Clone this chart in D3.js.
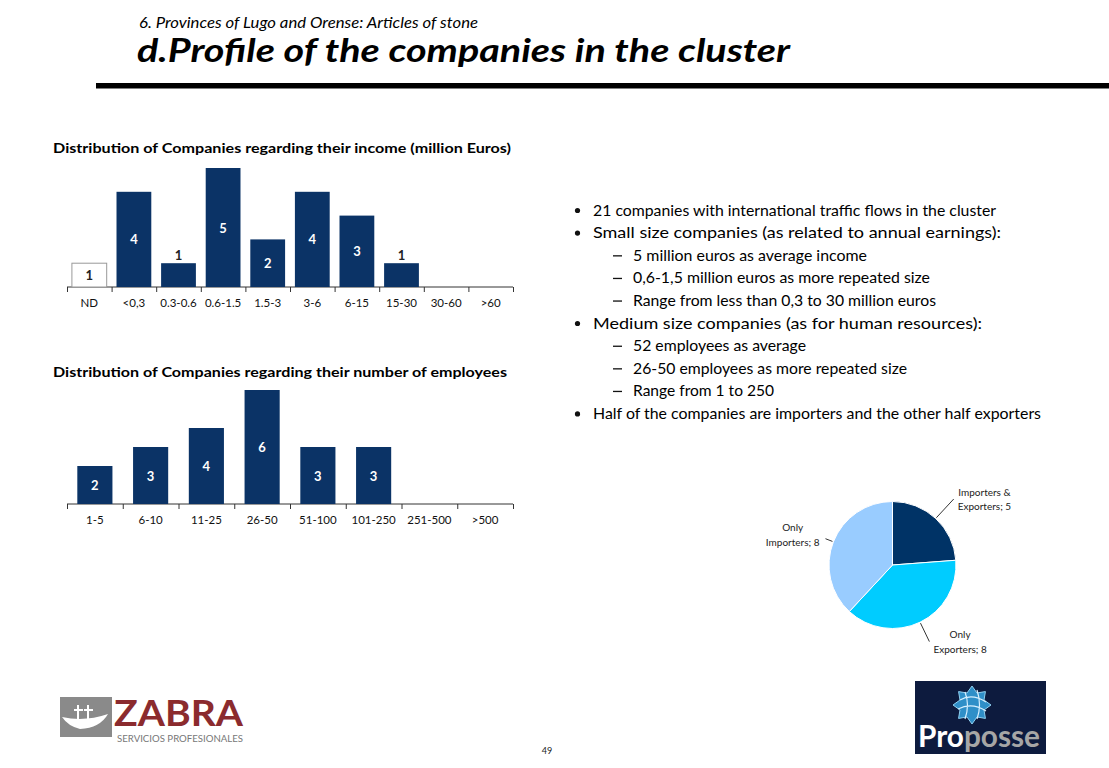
<!DOCTYPE html>
<html>
<head>
<meta charset="utf-8">
<script src="https://cdn.jsdelivr.net/npm/d3@7"></script>
<style>
	body { margin: 0; background: #fff; }
	svg { display: block; font-family: Lato, "Open Sans", sans-serif; }
</style>
</head>
<body>
<svg id="slide" width="1109" height="768" viewBox="0 0 1109 768"></svg>
<script>

// income chart
const incomeCats = ["ND", "<0,3", "0.3-0.6", "0.6-1.5", "1.5-3", "3-6", "6-15", "15-30", "30-60", ">60"];
const incomeVals = [1, 4, 1, 5, 2, 4, 3, 1, 0, 0];

// employees chart
const employeeCats = ["1-5", "6-10", "11-25", "26-50", "51-100", "101-250", "251-500", ">500"];
const employeeVals = [2, 3, 4, 6, 3, 3, 0, 0];

// pie
const tradeCats = ["Importers &\nExporters", "Only\nExporters", "Only\nImporters"];
const tradeVals = [5, 8, 8];
const tradeColors = ["#003366", "#00ccff", "#99ccff"];

const bullets = [
	[0, "21 companies with international traffic flows in the cluster"],
	[0, "Small size companies (as related to annual earnings):"],
	[1, "5 million euros as average income"],
	[1, "0,6-1,5 million euros as more repeated size"],
	[1, "Range from less than 0,3 to 30 million euros"],
	[0, "Medium size companies (as for human resources):"],
	[1, "52 employees as average"],
	[1, "26-50 employees as more repeated size"],
	[1, "Range from 1 to 250"],
	[0, "Half of the companies are importers and the other half exporters"]
];

const svg = d3.select("#slide");
const navy = "#0b3366";

// header
svg.append("text").attr("x", 139).attr("y", 27.5)
	.attr("font-size", 15).attr("font-style", "italic").attr("fill", "#000")
	.attr("textLength", 339).attr("lengthAdjust", "spacingAndGlyphs")
	.text("6. Provinces of Lugo and Orense: Articles of stone");
svg.append("text").attr("x", 137).attr("y", 62)
	.attr("font-size", 32).attr("font-style", "italic").attr("font-weight", "bold").attr("fill", "#000")
	.attr("textLength", 653).attr("lengthAdjust", "spacingAndGlyphs")
	.text("d.Profile of the companies in the cluster");
svg.append("rect").attr("x", 96).attr("y", 83).attr("width", 1013).attr("height", 5.5).attr("fill", "#000");


function barChart(cats, vals, opt) {
	const g = svg.append("g");

	g.append("text").attr("x", opt.left - 14).attr("y", opt.titleY)
		.attr("font-size", 14).attr("font-weight", "bold").attr("fill", "#000")
		.attr("textLength", opt.titleLen).attr("lengthAdjust", "spacingAndGlyphs")
		.text(opt.title);

	const x = d3.scaleBand().domain(cats).range([opt.left, opt.right])
		.paddingInner(opt.pad).paddingOuter(opt.pad / 2);
	const y = d3.scaleLinear().domain([0, opt.max]).range([opt.base, opt.top]);

	// boundary ticks
	const xt = d3.scaleLinear().domain([0, cats.length]).range([opt.left, opt.right]);
	g.append("g").attr("transform", `translate(0,${opt.base})`)
		.call(d3.axisBottom(xt).tickValues(d3.range(cats.length + 1)).tickSize(5).tickFormat(""))
		.call(a => a.select(".domain").attr("stroke", "#333").attr("d", `M${opt.left},0H${opt.right}`))
		.call(a => a.selectAll("line").attr("stroke", "#333"));

	// category labels
	g.append("g").attr("transform", `translate(0,${opt.base})`)
		.call(d3.axisBottom(x).tickSize(0).tickPadding(12))
		.call(a => a.select(".domain").remove())
		.call(a => a.selectAll("text").attr("font-size", 11.5).attr("fill", "#111")
			.attr("font-family", "Lato, sans-serif"));

	const data = cats.map((c, i) => ({ c: c, v: vals[i] })).filter(d => d.v > 0);

	g.selectAll("rect.bar").data(data).enter().append("rect")
		.attr("class", "bar")
		.attr("x", d => x(d.c))
		.attr("y", d => y(d.v))
		.attr("width", x.bandwidth())
		.attr("height", d => y(0) - y(d.v))
		.attr("fill", d => d.c === "ND" ? "#fff" : navy)
		.attr("stroke", d => d.c === "ND" ? "#999" : "none");

	g.selectAll("text.val").data(data).enter().append("text")
		.attr("class", "val")
		.attr("x", d => x(d.c) + x.bandwidth() / 2)
		.attr("y", d => {
			if (d.c !== "ND" && y(0) - y(d.v) < 30) return y(d.v) - 3;
			return (y(0) + y(d.v)) / 2 + 5;
		})
		.attr("text-anchor", "middle")
		.attr("font-size", 13).attr("font-weight", "bold")
		.attr("fill", d => (d.c === "ND" || y(0) - y(d.v) < 30) ? "#222" : "#fff")
		.text(d => d.v);
}

barChart(incomeCats, incomeVals, {
	title: "Distribution of Companies regarding their income (million Euros)",
	titleY: 153, titleLen: 458,
	left: 67, right: 513, base: 287, top: 168, max: 5, pad: 0.22
});

barChart(employeeCats, employeeVals, {
	title: "Distribution of Companies regarding their number of employees",
	titleY: 377, titleLen: 454,
	left: 67, right: 513, base: 504, top: 390, max: 6, pad: 0.37
});


// bullet list
const bl = svg.append("g").attr("font-size", 16).attr("fill", "#000");
bullets.forEach((b, i) => {
	const yy = 215.5 + i * 22.6;
	if (b[0] === 0) {
		bl.append("circle").attr("cx", 577.5).attr("cy", yy - 5).attr("r", 2.6).attr("fill", "#111");
		bl.append("text").attr("x", 593).attr("y", yy).text(b[1]);
	} else {
		bl.append("rect").attr("x", 613).attr("y", yy - 5.5).attr("width", 9).attr("height", 1.3).attr("fill", "#111");
		bl.append("text").attr("x", 633).attr("y", yy).text(b[1]);
	}
});
// fit line widths to the reference
const lineEnds = [996, 1001, 867, 930, 936, 982, 806, 907, 774, 1041];
bl.selectAll("text").each(function(d, i) {
	const t = d3.select(this);
	t.attr("textLength", lineEnds[i] - (+t.attr("x"))).attr("lengthAdjust", "spacingAndGlyphs");
});


// pie
const cx = 892.5, cy = 565, r = 63.5;
const pie = d3.pie().sort(null).value(d => d)(tradeVals);
const arc = d3.arc().innerRadius(0).outerRadius(r);
const pg = svg.append("g").attr("transform", `translate(${cx},${cy})`);
pg.selectAll("path").data(pie).enter().append("path")
	.attr("d", arc)
	.attr("fill", (d, i) => tradeColors[i])
	.attr("stroke", "#fff").attr("stroke-width", 1);

const leadIn = d3.arc().innerRadius(r + 1).outerRadius(r + 1);
const leadOutR = [90, 85, 72];
pie.forEach((d, i) => {
	const a0 = leadIn.centroid(d);
	const a1 = d3.arc().innerRadius(leadOutR[i]).outerRadius(leadOutR[i]).centroid(d);
	pg.append("line").attr("x1", a0[0]).attr("y1", a0[1]).attr("x2", a1[0]).attr("y2", a1[1])
		.attr("stroke", "#000").attr("stroke-width", 0.8);

	const lines = tradeCats[i].split("\n");
	lines[lines.length - 1] += "; " + tradeVals[i];
	const right = a1[0] > 0;
	const t = pg.append("text").attr("font-size", 10).attr("fill", "#222").attr("text-anchor", "middle");
	lines.forEach((s, j) => t.append("tspan").text(s));
	const w = d3.max(t.selectAll("tspan").nodes(), n => n.getComputedTextLength());
	const tx = right ? a1[0] + 4 + w / 2 : a1[0] - 6 - w / 2;
	const ty = a1[1] - 7 * (lines.length - 1) + 3.5 - (i === 2 ? 4 : 0);
	t.selectAll("tspan").attr("x", tx).attr("y", (s, j) => ty + j * 14.5);
});


// footer: page number and logos
svg.append("text").attr("x", 547).attr("y", 754).attr("text-anchor", "middle")
	.attr("font-size", 9).attr("fill", "#222").text("49");

const zl = svg.append("g");
zl.append("rect").attr("x", 60).attr("y", 697).attr("width", 52).attr("height", 40).attr("fill", "#8a8a8a");
zl.append("path").attr("d", "M62,717 Q85,722 108,714 Q100,728 80,729 Q68,726 62,717 Z").attr("fill", "#fff");
zl.append("path").attr("d", "M78,705V722M74,710H83M88,705V722M84,710H93").attr("stroke", "#fff").attr("stroke-width", 2);
zl.append("text").attr("x", 114).attr("y", 725.5).attr("font-size", 36).attr("font-weight", "bold")
	.attr("fill", "#8b2b2e").attr("textLength", 129).attr("lengthAdjust", "spacingAndGlyphs").text("ZABRA");
zl.append("text").attr("x", 117).attr("y", 742).attr("font-size", 8.5)
	.attr("fill", "#777").attr("textLength", 126).attr("lengthAdjust", "spacingAndGlyphs").text("SERVICIOS PROFESIONALES");

const pl = svg.append("g");
pl.append("rect").attr("x", 915).attr("y", 681).attr("width", 131).attr("height", 73).attr("fill", "#0d1b3e");
const star = d3.range(16).map(k => {
	const ang = k * Math.PI / 8, rr = k % 2 ? 13 : 19;
	return [972 + rr * Math.sin(ang), 705 - rr * Math.cos(ang)];
});
pl.append("path").attr("d", d3.line()(star) + "Z").attr("fill", "#2f8fc8").attr("stroke", "#8fd0f0").attr("stroke-width", 1);
pl.append("path").attr("d", "M960,700 Q972,693 986,702 M958,709 Q972,702 986,711 M965,692 Q970,705 965,719 M977,690 Q982,705 977,719")
	.attr("fill", "none").attr("stroke", "#d8f0ff").attr("stroke-width", 1.2);
const pt = pl.append("text").attr("x", 918).attr("y", 747).attr("font-size", 30).attr("font-weight", "bold")
	.attr("textLength", 122).attr("lengthAdjust", "spacingAndGlyphs");
pt.append("tspan").attr("fill", "#fff").text("Pro");
pt.append("tspan").attr("fill", "#a6a6a6").text("posse");

</script>
</body>
</html>
